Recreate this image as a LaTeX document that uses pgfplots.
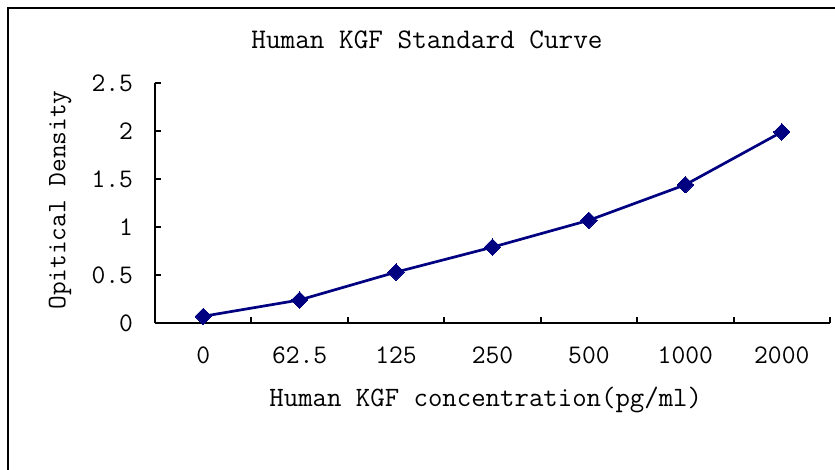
\documentclass[border=0pt]{standalone}
\usepackage{fontspec}
\usepackage{pgfplots}
\pgfplotsset{compat=1.18}
\renewcommand\familydefault{\ttdefault}
\definecolor{navy}{RGB}{0,0,128}
\begin{document}
\begin{tikzpicture}
\path[use as bounding box] (-77.5pt,-73.5pt) rectangle (340pt,161.5pt);
\draw[line width=1pt] (-73.5pt,-75pt) -- (-73.5pt,157.5pt) -- (342pt,157.5pt);
\begin{axis}[
  at={(0pt,0pt)}, anchor=south west,
  scale only axis, width=337.5pt, height=120pt,
  xmin=0.5, xmax=7.5, ymin=0, ymax=2.5,
  axis x line=bottom, axis y line=left,
  axis line style={-, line width=1pt},
  tick style={line width=1pt, black},
  tick align=inside,
  xtick={1,...,7},
  xticklabels={0,62.5,125,250,500,1000,2000},
  major x tick style={draw=none},
  minor xtick={0.5,1.5,...,7.5},
  minor tick length=3pt,
  ytick={0,0.5,1,1.5,2,2.5},
  major tick length=3pt,
  /pgf/number format/assume math mode=true,
  ticklabel style={font=\fontsize{13.4pt}{15pt}\selectfont\ttfamily},
  xticklabel style={yshift=-8.5pt},
  yticklabel style={xshift=-7.5pt},
  xlabel={Human KGF concentration(pg/ml)},
  ylabel={Opitical Density},
  xlabel style={font=\fontsize{14pt}{16pt}\selectfont\ttfamily, at={(axis description cs:0.49,0)}, anchor=center, yshift=-38.5pt},
  ylabel style={font=\fontsize{13.3pt}{15pt}\selectfont\ttfamily, at={(axis description cs:-0.1407,0.5125)}, anchor=center, rotate=0},
  clip=false,
]
\addplot[color=navy, line width=1.35pt, mark=square*, mark size=2.9pt,
  mark options={rotate=45, fill=navy, draw=navy, line width=0pt}]
  coordinates {(1,0.07) (2,0.24) (3,0.53) (4,0.79) (5,1.07) (6,1.44) (7,1.99)};
\end{axis}
\node[font=\fontsize{14.2pt}{16pt}\selectfont\ttfamily] at (136pt,141.5pt) {Human KGF Standard Curve};
\end{tikzpicture}
\end{document}
